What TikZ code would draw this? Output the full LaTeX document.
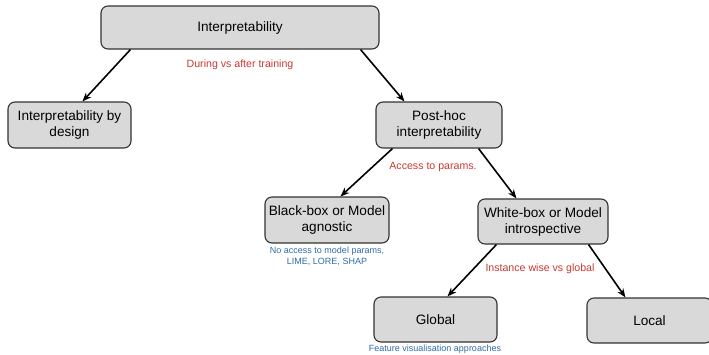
\documentclass[tikz,border=0pt]{standalone}
\usepackage{fontspec}
\setmainfont{Liberation Sans}
\usetikzlibrary{arrows.meta}
\definecolor{boxfill}{HTML}{D9D9D9}
\definecolor{boxdraw}{HTML}{333333}
\definecolor{lblred}{HTML}{C8382F}
\definecolor{lblblue}{HTML}{2F6BA8}
\begin{document}
\begin{tikzpicture}[x=1pt,y=-1pt,
  box/.style={draw=boxdraw,fill=boxfill,line width=1.1pt,rounded corners=7pt,
    align=center,font=\fontsize{13.6}{16}\selectfont,inner sep=0pt},
  arr/.style={-{Stealth[length=9pt,width=7pt]},line width=1.6pt,black},
  redlbl/.style={text=lblred,font=\fontsize{10.6}{12}\selectfont,inner sep=0pt},
  bluelbl/.style={text=lblblue,font=\fontsize{9}{11}\selectfont,align=center,inner sep=0pt}]
\useasboundingbox (0,0) rectangle (709,354);
\node[box,minimum width=278pt,minimum height=43pt] (top) at (240,27.5) {Interpretability};
\node[box,minimum width=123pt,minimum height=46pt] (design) at (69.5,125) {Interpretability by\\design};
\node[box,minimum width=126pt,minimum height=46pt] (post) at (439,125) {Post-hoc\\interpretability};
\node[box,minimum width=124pt,minimum height=46pt] (black) at (327,220) {Black-box or Model\\agnostic};
\node[box,minimum width=130pt,minimum height=45pt] (white) at (543,221.5) {White-box or Model\\introspective};
\node[box,minimum width=123pt,minimum height=45pt] (global) at (435.5,319.5) {Global};
\node[box,minimum width=125pt,minimum height=45pt] (local) at (649.5,320.5) {Local};

\draw[arr] ([xshift=30pt]top.south west) -- ([xshift=75pt]design.north west);
\draw[arr] ([xshift=-19pt]top.south east) -- ([xshift=29pt]post.north west);
\draw[arr] ([xshift=17pt]post.south west) -- ([xshift=76pt]black.north west);
\draw[arr] ([xshift=-24pt]post.south east) -- ([xshift=39pt]white.north west);
\draw[arr] ([xshift=19pt]white.south west) -- ([xshift=74pt]global.north west);
\draw[arr] ([xshift=-20pt]white.south east) -- ([xshift=39pt]local.north west);

\node[redlbl] (l1) at (240,65) {During vs after training};
\node[redlbl] (l2) at (433,167) {Access to params.};
\node[redlbl] (l3) at (540,269) {Instance wise vs global};
\node[bluelbl] (l4) at (327,256) {No access to model params,\\LIME, LORE, SHAP};
\node[bluelbl] (l5) at (435,349) {Feature visualisation approaches};
\end{tikzpicture}
\end{document}
